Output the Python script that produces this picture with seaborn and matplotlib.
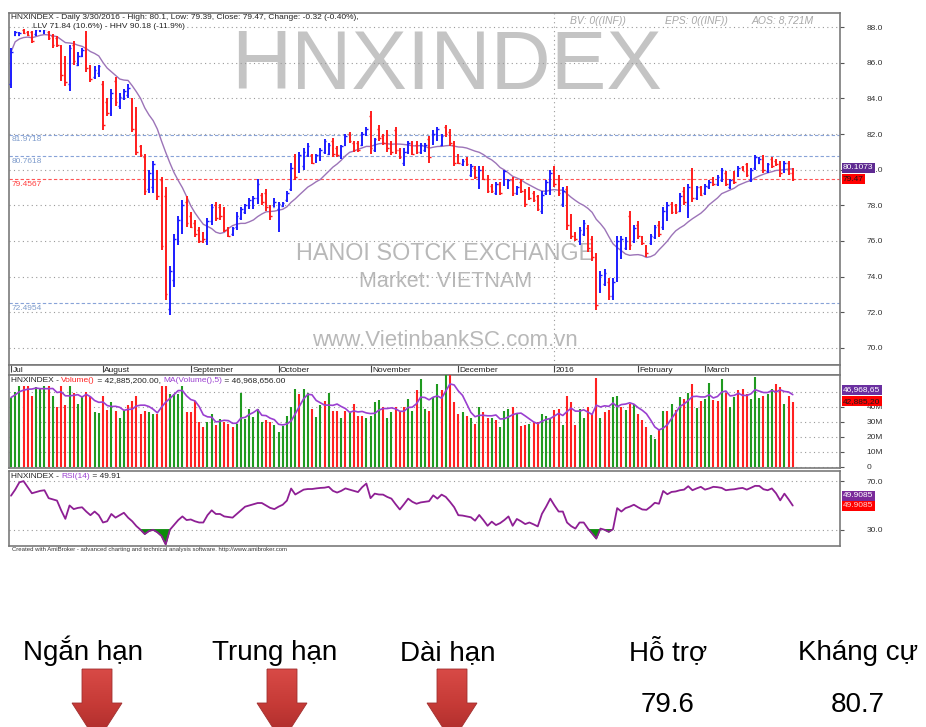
import numpy as np
import pandas as pd
import matplotlib
matplotlib.use("Agg")
import matplotlib.pyplot as plt
import seaborn as sns
from matplotlib.patches import Polygon
from matplotlib.colors import LinearSegmentedColormap

sns.set_theme(style="white")
plt.rcParams['font.family'] = ['Liberation Sans', 'DejaVu Sans']

# ---------------- data ----------------
high = [86.8,87.8,87.7,87.9,87.8,87.8,88.0,88.1,88.0,87.8,
        87.6,87.5,87.0,86.4,87.0,87.2,86.6,86.8,87.8,85.9,
        85.8,85.9,85.0,84.0,84.5,85.2,84.3,84.5,84.8,84.0,
        83.5,81.4,80.9,80.0,80.5,80.0,79.6,79.0,74.6,76.4,
        77.4,78.3,78.5,77.6,77.2,76.8,76.5,77.3,78.1,78.2,
        78.1,77.9,76.8,76.8,77.6,77.9,78.1,78.4,78.5,79.5,
        78.7,78.9,78.0,78.4,78.2,78.2,78.8,80.4,80.9,81.0,
        81.2,81.5,80.9,80.9,81.2,81.7,81.5,81.8,81.3,81.4,
        82.0,82.1,81.6,81.6,82.1,82.4,83.3,81.8,82.5,82.0,
        82.2,81.6,82.4,81.2,81.2,81.6,81.6,81.6,81.5,81.5,
        81.9,82.2,82.4,82.0,82.5,82.3,81.6,80.9,80.6,80.7,
        80.3,80.2,80.2,80.2,79.7,79.2,79.3,79.3,80.0,79.5,
        79.6,79.1,79.5,78.9,79.0,78.8,78.6,78.8,79.4,80.0,
        80.2,79.7,79.0,79.1,77.5,76.5,76.8,77.2,76.9,76.3,
        75.3,74.3,74.4,73.9,73.9,76.3,76.3,76.2,77.7,76.9,
        77.1,76.3,75.8,76.4,76.9,77.1,77.9,78.2,78.2,78.1,
        78.7,79.0,79.2,80.1,79.1,79.1,79.2,79.4,79.6,79.7,
        80.1,79.9,79.5,79.9,80.2,80.2,80.4,80.1,80.8,80.7,
        80.8,80.4,80.7,80.6,80.5,80.5,80.5,80.1]
low = [84.6,87.5,87.5,87.6,87.5,87.1,87.5,87.7,87.6,87.3,
       86.8,86.9,85.0,84.7,84.4,85.9,85.8,86.3,85.5,84.9,
       85.1,85.2,82.2,83.0,83.0,83.6,83.4,83.9,84.0,82.1,
       80.8,80.7,78.6,78.7,78.7,78.3,75.5,72.7,71.84,73.4,
       75.8,76.4,76.8,76.7,76.2,75.9,75.9,75.8,76.9,77.1,
       77.2,76.5,76.2,76.3,76.6,77.2,77.5,77.8,77.8,78.1,
       78.0,77.7,77.2,77.9,76.5,77.9,78.2,78.8,79.4,79.8,
       80.0,80.7,80.3,80.4,80.5,80.9,80.8,80.7,80.7,80.6,
       81.3,81.5,81.0,81.0,81.3,81.9,80.9,81.0,81.6,81.4,
       81.0,80.8,80.9,80.6,80.2,80.9,80.8,80.9,80.9,81.0,
       80.4,81.4,81.6,81.3,81.85,81.3,80.2,80.3,80.2,80.2,
       79.6,79.5,78.9,79.4,78.7,78.7,78.6,78.6,79.1,78.9,
       78.5,78.6,78.7,77.9,78.3,78.2,77.7,77.5,78.6,78.6,
       79.0,78.5,77.9,76.6,76.1,76.0,75.8,76.3,75.4,74.9,
       72.1,73.1,73.5,72.7,72.7,73.7,75.0,75.5,75.5,75.9,
       76.1,75.8,75.1,75.8,76.1,76.2,76.6,77.1,77.5,77.5,
       77.6,78.0,77.3,78.2,78.3,78.5,78.6,78.9,79.1,79.1,
       79.3,79.1,78.9,79.2,79.6,79.9,79.6,79.3,80.0,80.3,
       79.8,79.8,80.1,80.2,79.6,79.8,79.7,79.39]
opn = [84.8,87.55,87.55,87.85,87.75,87.7,87.6,87.8,87.7,87.7,
       87.5,87.4,86.9,86.2,84.8,87.0,85.9,86.4,87.5,85.7,
       85.2,85.4,84.8,83.8,83.2,85.0,83.6,84.0,84.2,83.8,
       83.0,81.3,80.7,78.9,79.0,79.8,79.4,78.5,72.2,73.8,
       76.0,76.7,78.2,77.4,77.0,76.6,76.3,76.0,77.1,78.0,
       77.9,77.6,76.7,76.4,76.8,77.3,77.6,77.9,78.0,78.4,
       78.6,78.7,77.9,77.9,77.8,77.95,78.3,78.9,80.6,79.9,
       80.2,80.8,80.8,80.5,80.6,81.0,80.9,81.6,81.2,80.8,
       81.4,82.0,81.5,81.5,81.4,82.0,83.0,81.1,82.3,81.9,
       82.0,81.5,82.2,81.1,80.4,81.0,81.5,81.4,81.0,81.1,
       81.7,81.5,81.7,81.4,82.4,82.1,81.4,80.8,80.3,80.6,
       79.7,80.1,79.1,80.0,79.5,79.1,78.7,79.2,79.2,79.0,
       79.4,78.7,79.3,78.8,78.9,78.7,78.5,77.7,78.7,78.8,
       80.0,79.5,78.1,78.9,77.3,76.4,76.0,76.4,76.7,76.1,
       75.0,73.3,73.6,73.7,72.9,73.9,75.2,75.6,77.4,76.0,
       76.9,76.2,75.7,75.9,76.2,76.9,76.8,77.3,78.1,78.0,
       77.7,78.8,77.6,79.8,78.4,79.0,78.7,79.0,79.5,79.2,
       79.4,79.8,79.0,79.8,79.7,80.15,80.3,79.4,80.1,80.35,
       80.6,79.9,80.6,80.5,80.4,79.9,80.4,79.79]
close = [86.6,87.75,87.65,87.65,87.55,87.2,87.9,88.0,87.9,87.4,
         87.0,87.0,85.3,84.9,86.8,86.1,86.4,86.7,85.7,85.1,
         85.6,85.8,82.5,83.2,84.3,83.8,84.1,84.4,84.6,82.3,
         81.0,80.8,78.8,79.8,80.3,78.5,75.7,73.0,74.3,76.1,
         77.2,78.0,77.0,76.8,76.4,76.0,76.1,77.1,77.9,77.3,
         77.4,76.6,76.3,76.7,77.4,77.8,78.0,78.3,78.4,79.2,
         78.2,77.9,77.4,78.2,78.1,78.15,78.7,80.1,79.6,80.8,
         81.0,81.3,80.4,80.8,81.1,81.6,81.4,80.9,80.8,81.3,
         81.9,81.6,81.1,81.1,82.0,82.3,81.2,81.7,81.8,81.5,
         81.2,81.0,81.1,80.7,81.0,81.5,80.9,81.0,81.4,81.4,
         80.7,82.0,82.3,81.9,82.0,81.5,80.4,80.4,80.5,80.3,
         80.2,79.6,80.0,79.5,78.8,78.8,79.2,78.7,79.9,79.4,
         78.7,79.0,78.8,78.1,78.4,78.3,77.8,78.6,79.3,79.8,
         79.2,78.7,78.8,76.9,76.3,76.1,76.6,77.0,75.6,75.1,
         72.4,74.1,74.2,72.9,73.7,76.0,76.1,76.0,75.8,76.7,
         76.3,75.9,75.3,76.3,76.8,76.4,77.7,78.0,77.6,77.6,
         78.5,78.2,79.0,78.4,79.0,78.6,79.1,79.3,79.2,79.6,
         80.0,79.2,79.4,79.3,80.1,79.95,79.7,80.0,80.7,80.6,
         80.0,80.3,80.2,80.3,79.8,80.4,79.79,79.47]
volume_m = [46,49.5,54,54,54,46.7,52.9,51.8,54,54,
            47.3,39.6,54,40.7,54,48.9,41.8,46.2,49.5,46.2,
            36.2,35.8,47.3,37.8,42.9,36.9,32.4,37.3,40.7,44,
            47.3,35.1,37.3,36.2,35.1,35.1,54,54,48.4,48.4,
            48.4,54,36.2,36.2,44,29.6,26.2,29.6,35.1,28,
            31.8,29.6,28.4,26.2,28.4,48.9,31.8,38.2,32.9,38.2,
            29.6,30.7,29.6,28,22.9,27.3,34,39.6,51.8,48.4,
            51.8,48.9,38.2,32.9,40.7,44,48.9,37.3,37.3,32.4,
            37.3,36.2,42,34,34,32.4,34,42.9,44.4,39.6,
            32.4,36.2,39.6,36.2,39.6,45.1,37.3,51,58.4,38.2,
            37.3,46.2,55,51,62,61,42.9,35,36.2,34,
            32.4,28.4,39.6,36.2,32.4,32.4,31.1,26.2,37.3,38.2,
            39.8,35.3,27.3,28,28.4,29.6,29.6,35.1,34,31.8,
            37.8,38.4,28,47.3,42.9,28,38.4,32.4,39.6,35.1,
            59,32.4,36.2,37.8,46.2,46.7,39.6,37.8,42,41.6,
            35.3,30.7,26.2,21.3,18.4,25.1,36.9,37.3,42,37.8,
            46.2,45.1,48.9,55,38.9,44,45.1,56,44.4,44,
            58.4,48.9,39.6,46.2,50.7,51.8,48.4,45.1,60,45.8,
            47.3,48.4,51.8,55,52.9,42,46.7,42.885]
vol_dir = ("gggrrrgggr" "grrrgrggrr" "ggrrgrggrr" "rrrggrrrgg" "ggrrrrrggr"
           "grrrgggggg" "grrggggggr" "ggrggrgrrg" "rgrrrggggr" "ggrrrggrgg"
           "rggrgrrr" "grgrgrrgrg" "ggrgrrgrrg" "ggrrgrrrgg" "rrrgrrggrg"
           "rgrrrggrgr" "grgrgrgrgg" "rrgrggrrrg" "ggrggrrgrr")
rsi = [58,63,69,70,65,60,61,62,62.5,56,
       55,54,46,39,50,47,48,48.5,45,42,
       45,42,36,37,43,40,42,44,40,37,
       33,30,26.5,29,30,28,25,18,30,34,
       38,41,38,38.5,37,36,36,42,46,43,
       43,41,40.5,40,43,46,49,50,51,52,
       52,50,48,47,49,50.6,54,63.9,59,61,
       63,63.5,63.5,64,64.4,64.6,65.3,62,60.6,62,
       64,63,62,61,65,68,56,59.7,59,58.9,
       57,55.6,51,46.7,51,55.6,53,51.4,52.5,53,
       53.5,58.3,55.6,58.9,57,53,48.6,42,41.7,41,
       40.3,37.5,42.2,38,33.3,36.7,33.9,35.5,38,41,
       33.3,38.9,37,34.7,36,34.5,32.8,43.1,49,55.6,
       50,45,45,36,33,31,36,36,31,27,
       22.8,31,30,28.3,30.5,47.8,45,47.8,49,50.6,
       48.5,46.7,46.4,49,52.2,51.4,61.9,59.2,61.1,61.5,
       62.5,63,65.8,62.5,64,65.3,63,64,65.3,65,
       64.4,62.5,63,63.3,64,64.4,63,64.5,66.1,66,
       63.3,62.5,64,60,54.2,59.7,55,49.91]
month_labels = ["Jul", "August", "September", "October", "November",
                "December", "2016", "February", "March"]
month_start = [0, 22, 43, 64, 86, 107, 130, 150, 166]
price_ticks = [70, 72, 74, 76, 78, 80, 82, 84, 86, 88]
vol_ticks = [0, 10, 20, 30, 40]
vol_tick_labels = ["0", "10M", "20M", "30M", "40M"]
rsi_ticks = [30, 70]
blue_levels = [81.9718, 80.7618, 72.4954]
red_level = 79.4567
ma_last = 80.1073
vma_last = "46,968,65"
vol_last = "42,885,20"
rsi_last = "49.9085"

bottom_heads = ["Ngắn hạn", "Trung hạn", "Dài hạn", "Hỗ trợ", "Kháng cự"]
support_value = "79.6"
resist_value = "80.7"

# ---------------- frame ----------------
df = pd.DataFrame({"i": np.arange(len(close)), "high": high, "low": low,
                   "open": opn, "close": close, "vol": volume_m, "rsi": rsi})
df["ma"] = df["close"].rolling(15, min_periods=1).mean()
df["vma"] = df["vol"].rolling(5, min_periods=1).mean()
up = df["close"] >= df["open"]
bar_col = np.where(up, "#1c1cff", "#ff1c1c")
vcol = ["#1f9a1f" if c == "g" else "#ff2020" for c in vol_dir]

W, H = 926, 727
fig = plt.figure(figsize=(W / 100, H / 100), dpi=100)
fig.patch.set_facecolor("white")
fx = lambda p: p / W
fy = lambda p: 1 - p / H
L, R = 8.5, 840

def add_ax(top, bot):
    return fig.add_axes([fx(L), fy(bot), fx(R) - fx(L), fy(top) - fy(bot)])

ax_bg = fig.add_axes([0, 0, 1, 1], zorder=-5)
ax_p = add_ax(13, 365)
ax_m = add_ax(365, 375)
ax_v = add_ax(375, 468)
ax_r = add_ax(471, 546)

XL = (-0.6, 198.3)
grid_kw = dict(color="#9a9a9a", lw=0.8, ls=(0, (1, 3)), zorder=1)
for a in (ax_p, ax_m, ax_v, ax_r):
    a.set_xlim(*XL)
    a.set_facecolor("white")
    for s in a.spines.values():
        s.set_color("#7a7a7a")
        s.set_linewidth(1.2)
    a.set_xticks([])
    a.grid(False)

def right_ticks(a, ticks, labels):
    a.yaxis.tick_right()
    a.set_yticks(ticks)
    a.set_yticklabels(labels)
    a.tick_params(axis="y", length=3, width=0.8, color="#555555", pad=16,
                  labelsize=6, labelcolor="#333333", right=True, left=False)

def rbox(a, y, txt, fc, tc, dy=0):
    a.annotate(txt, xy=(1, y), xycoords=a.get_yaxis_transform(), xytext=(2.2, dy),
               textcoords="offset points", ha="left", va="center", fontsize=6,
               color=tc, bbox=dict(boxstyle="square,pad=0.18", fc=fc, ec="none"),
               annotation_clip=False, zorder=20)

# ---------------- price panel ----------------
ax_p.set_ylim(69.04, 88.79)
right_ticks(ax_p, price_ticks, [f"{v:.1f}" for v in price_ticks])
for v in price_ticks:
    ax_p.axhline(v, **grid_kw)
ax_p.axvline(month_start[6], **grid_kw)
for lv in blue_levels:
    ax_p.axhline(lv, color="#88a3d8", lw=0.8, ls=(0, (3, 2)), zorder=1.5)
    ax_p.text(0.004, lv - 0.08, f"{lv:.4f}", transform=ax_p.get_yaxis_transform(),
              va="top", ha="left", fontsize=6, color="#7f9ccc", zorder=2)
ax_p.axhline(red_level, color="#ff5555", lw=0.8, ls=(0, (3, 2)), zorder=1.5)
ax_p.text(0.004, red_level - 0.08, f"{red_level:.4f}", transform=ax_p.get_yaxis_transform(),
          va="top", ha="left", fontsize=6, color="#ff4040", zorder=2)

wm = dict(transform=fig.transFigure, ha="center", va="center", zorder=0.5)
ax_p.text(fx(447), fy(67), "HNXINDEX", fontsize=60, color="#c4c4c4", **wm)
ax_p.text(fx(445), fy(253), "HANOI SOTCK EXCHANGE", fontsize=16.8, color="#b8b8b8", **wm)
ax_p.text(fx(446), fy(282), "Market: VIETNAM", fontsize=15.5, color="#b8b8b8", **wm)
ax_p.text(fx(445), fy(340), "www.VietinbankSC.com.vn", fontsize=16, color="#b8b8b8", **wm)

ax_p.vlines(df["i"], df["low"], df["high"], colors=bar_col, lw=1.4, zorder=3)
ax_p.hlines(df["open"], df["i"] - 0.4, df["i"], colors=bar_col, lw=1.0, zorder=3)
ax_p.hlines(df["close"], df["i"], df["i"] + 0.4, colors=bar_col, lw=1.0, zorder=3)
sns.lineplot(data=df, x="i", y="ma", ax=ax_p, color="#9c74b8", lw=1.0, zorder=2.5)
ax_p.set_xlabel(""); ax_p.set_ylabel("")
ax_p.set_xlim(*XL); ax_p.set_xticks([])

ax_p.text(fx(11), fy(17.5), "HNXINDEX - Daily 3/30/2016 - High: 80.1, Low: 79.39, Close: 79.47, "
          "Change: -0.32 (-0.40%),", transform=fig.transFigure, fontsize=6, color="#222222",
          va="center", ha="left", zorder=5)
ax_p.text(fx(33), fy(26.5), "LLV 71.84 (10.6%) - HHV 90.18 (-11.9%)", transform=fig.transFigure,
          fontsize=6, color="#222222", va="center", ha="left", zorder=5,
          bbox=dict(boxstyle="square,pad=0.05", fc="white", ec="none"))
for xp, t in [(570, "BV: 0((INF))"), (665, "EPS: 0((INF))"), (752, "AOS: 8,721M")]:
    ax_p.text(fx(xp), fy(20.5), t, transform=fig.transFigure, fontsize=7.5, style="italic",
              color="#a8a8a8", va="center", ha="left", zorder=5)
rbox(ax_p, ma_last, f"{ma_last:.4f}", "#5e2a91", "white")
rbox(ax_p, close[-1], f"{close[-1]:.2f}", "#ff0000", "#1a1a1a")

# ---------------- month band ----------------
ax_m.set_ylim(0, 1)
ax_m.set_yticks([])
for s, lab in zip(month_start, month_labels):
    ax_m.vlines(s, 0.35, 1, color="#444444", lw=0.8)
    ax_m.text(s + 0.35, 0.42, lab, fontsize=6, color="#222222", va="center", ha="left")

# ---------------- volume panel ----------------
ax_v.set_ylim(-1, 61)
right_ticks(ax_v, vol_ticks, vol_tick_labels)
for v in [0, 10, 20, 30, 40, 50]:
    ax_v.axhline(v, **grid_kw)
ax_v.vlines(df["i"], 0, df["vol"], colors=vcol, lw=1.5, zorder=3)
sns.lineplot(data=df, x="i", y="vma", ax=ax_v, color="#9a3fd0", lw=1.2, zorder=4)
ax_v.set_xlabel(""); ax_v.set_ylabel("")
ax_v.set_xlim(*XL); ax_v.set_xticks([])
rbox(ax_v, df["vma"].iloc[-1], vma_last, "#6a2fa0", "white", dy=3.5)
rbox(ax_v, volume_m[-1], vol_last, "#ff0000", "#1a1a1a", dy=0.5)

def chain(a, x, y, parts, size=6):
    t = a.text(fx(x), fy(y), parts[0][0], color=parts[0][1], fontsize=size,
               transform=fig.transFigure, va="center", ha="left", zorder=6)
    for s, c in parts[1:]:
        t = a.annotate(s, xy=(1, 0), xycoords=t, va="bottom", ha="left",
                       color=c, fontsize=size, zorder=6, annotation_clip=False)

chain(ax_v, 11, 380.5, [("HNXINDEX - ", "#222222"), ("Volume()", "#ff2020"),
                        (" = 42,885,200.00, ", "#222222"), ("MA(Volume(),5)", "#9a3fd0"),
                        (" = 46,968,656.00", "#222222")])

# ---------------- RSI panel ----------------
ax_r.set_ylim(16.7, 78.3)
right_ticks(ax_r, rsi_ticks, [f"{v:.1f}" for v in rsi_ticks])
for v in rsi_ticks:
    ax_r.axhline(v, **grid_kw)
r = df["rsi"].to_numpy()
ax_r.fill_between(df["i"], r, 30, where=r < 30, interpolate=True, color="#0a8a0a", zorder=2)
sns.lineplot(data=df, x="i", y="rsi", ax=ax_r, color="#8e1f94", lw=1.3, zorder=3)
ax_r.set_xlabel(""); ax_r.set_ylabel("")
ax_r.set_xlim(*XL); ax_r.set_xticks([])
rbox(ax_r, rsi[-1], rsi_last, "#7a2a9a", "white", dy=7)
rbox(ax_r, rsi[-1], rsi_last, "#ff0000", "#ffd0d0", dy=0)
chain(ax_r, 11, 476.5, [("HNXINDEX - ", "#222222"), ("RSI(14)", "#9a3fd0"),
                        (" = 49.91", "#222222")])

fig.text(fx(12), fy(550), "Created with AmiBroker - advanced charting and technical analysis "
         "software. http://www.amibroker.com", fontsize=4.3, color="#333333",
         va="center", ha="left")

# ---------------- bottom summary ----------------
ax_bg.set_axis_off()
head_x = [83, 275, 448, 668, 858]
for xc, t in zip(head_x, bottom_heads):
    ax_bg.text(xc, 660, t, fontsize=20, color="black", ha="center", va="baseline")
ax_bg.text(668, 711.5, support_value, fontsize=20, color="black", ha="center", va="baseline")
ax_bg.text(858, 711.5, resist_value, fontsize=20, color="black", ha="center", va="baseline")

cmap = LinearSegmentedColormap.from_list("arr", ["#d84a46", "#c53a36", "#a82a2a"])
grad = np.linspace(0, 1, 100).reshape(-1, 1)
for cx in [97, 282, 452]:
    pts = [(cx - 15, 669), (cx + 15, 669), (cx + 15, 703), (cx + 25, 703),
           (cx, 742), (cx - 25, 703), (cx - 15, 703)]
    poly = Polygon(pts, closed=True, fc="none", ec="#a03030", lw=0.6, zorder=3)
    ax_bg.add_patch(poly)
    im = ax_bg.imshow(grad, extent=(cx - 26, cx + 26, 742, 669), cmap=cmap,
                      aspect="auto", origin="upper", zorder=2)
    im.set_clip_path(poly)
ax_bg.set_xlim(0, W)
ax_bg.set_ylim(H, 0)

fig.savefig("out.png", dpi=100, facecolor="white")
